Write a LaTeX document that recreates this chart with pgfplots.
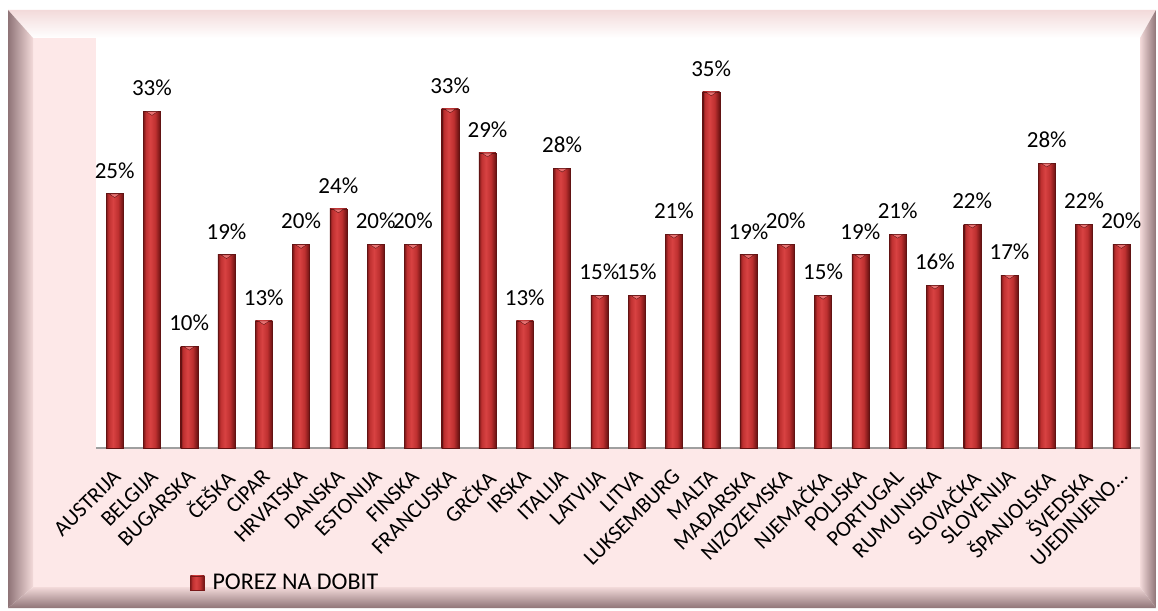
\documentclass[border=0pt]{standalone}
\usepackage{fontspec}
\setmainfont{Carlito}
\usepackage{pgfplots}
\pgfplotsset{compat=1.18}
\definecolor{bardark}{HTML}{7A1818}
\definecolor{barmid}{HTML}{BE3030}
\definecolor{barlight}{HTML}{D84242}
\definecolor{bardarkr}{HTML}{6A1212}
\definecolor{bartip}{HTML}{E87272}
\definecolor{pinkbg}{HTML}{FDE8E8}
\definecolor{bevelgray}{HTML}{8F7477}
\definecolor{bevelpink}{HTML}{F3DADA}
\pgfdeclarehorizontalshading{barshade}{100bp}{color(0bp)=(bardark); color(25bp)=(bardark); color(32bp)=(barmid); color(45bp)=(barlight); color(60bp)=(barmid); color(75bp)=(bardarkr); color(100bp)=(bardarkr)}
\pgfplotsset{barstyle/.style={shading=barshade, draw=bardark!80!black, line width=0.4pt, bar shift=0pt,
  mark=triangle*, mark size=6.5pt, mark options={shading=, fill=bartip, draw=none, yshift=-1.4pt, yscale=-0.38}}}
\newcommand{\onebar}[3]{\addplot[barstyle, forget plot] coordinates {(#1,#2) [#3\%]};}
\begin{document}
\begin{tikzpicture}[x=1pt,y=1pt]
\useasboundingbox (0,0) rectangle (1158,610);
\fill[white] (0,0) rectangle (1158,610);
% frame
\fill[pinkbg] (33,23) rectangle (1140,572);
\shade[top color=bevelpink, bottom color=white] (8,600) -- (1156,600) -- (1140,572) -- (33,572) -- cycle;
\shade[left color=bevelgray, right color=bevelpink] (8,2) -- (33,23) -- (33,572) -- (8,600) -- cycle;
\shade[right color=bevelgray, left color=bevelpink] (1156,2) -- (1156,600) -- (1140,572) -- (1140,23) -- cycle;
\shade[bottom color=bevelgray, top color=bevelpink] (8,2) -- (1156,2) -- (1140,23) -- (33,23) -- cycle;
\fill[white] (96,162) rectangle (1140,572);
\begin{axis}[
  at={(96pt,162pt)}, anchor=south west,
  scale only axis, width=1044pt, height=410pt,
  xmin=-0.5, xmax=27.5, ymin=0, ymax=40.3,
  ybar, bar width=17pt,
  axis x line*=bottom, axis y line=none,
  x axis line style={gray!75, line width=1.5pt},
  xtick={0,...,27}, major tick length=0pt,
  xticklabels={AUSTRIJA,BELGIJA,BUGARSKA,ČEŠKA,CIPAR,HRVATSKA,DANSKA,ESTONIJA,FINSKA,FRANCUSKA,GRČKA,IRSKA,ITALIJA,LATVIJA,LITVA,LUKSEMBURG,MALTA,MAĐARSKA,NIZOZEMSKA,NJEMAČKA,POLJSKA,PORTUGAL,RUMUNJSKA,SLOVAČKA,SLOVENIJA,ŠPANJOLSKA,ŠVEDSKA,UJEDINJENO…},
  xticklabel style={rotate=45, anchor=north east, inner sep=0pt, xshift=-16pt, yshift=-12pt, font=\fontsize{22}{26}\selectfont},
  point meta=explicit symbolic,
  nodes near coords,
  every node near coord/.append style={anchor=base, inner sep=0pt, yshift=17pt, font=\fontsize{23}{27}\selectfont, text=black},
  legend style={at={(0.09,-0.329)}, anchor=west, draw=none, fill=none, font=\fontsize{24}{28}\selectfont, inner sep=0pt},
  legend image code/.code={\shade[shading=barshade, draw=bardark] (0pt,-7pt) rectangle (14pt,7pt);\path (20pt,0pt);},
]
\addplot[barstyle] coordinates {(0,25) [25\%]};
\addlegendentry{POREZ NA DOBIT}
\onebar{1}{33.07}{33}
\onebar{2}{10}{10}
\onebar{3}{19}{19}
\onebar{4}{12.5}{13}
\onebar{5}{20}{20}
\onebar{6}{23.5}{24}
\onebar{7}{20}{20}
\onebar{8}{20}{20}
\onebar{9}{33.33}{33}
\onebar{10}{29}{29}
\onebar{11}{12.5}{13}
\onebar{12}{27.5}{28}
\onebar{13}{15}{15}
\onebar{14}{15}{15}
\onebar{15}{21}{21}
\onebar{16}{35}{35}
\onebar{17}{19}{19}
\onebar{18}{20}{20}
\onebar{19}{15}{15}
\onebar{20}{19}{19}
\onebar{21}{21}{21}
\onebar{22}{16}{16}
\onebar{23}{22}{22}
\onebar{24}{17}{17}
\onebar{25}{28}{28}
\onebar{26}{22}{22}
\onebar{27}{20}{20}
\end{axis}
\end{tikzpicture}
\end{document}
